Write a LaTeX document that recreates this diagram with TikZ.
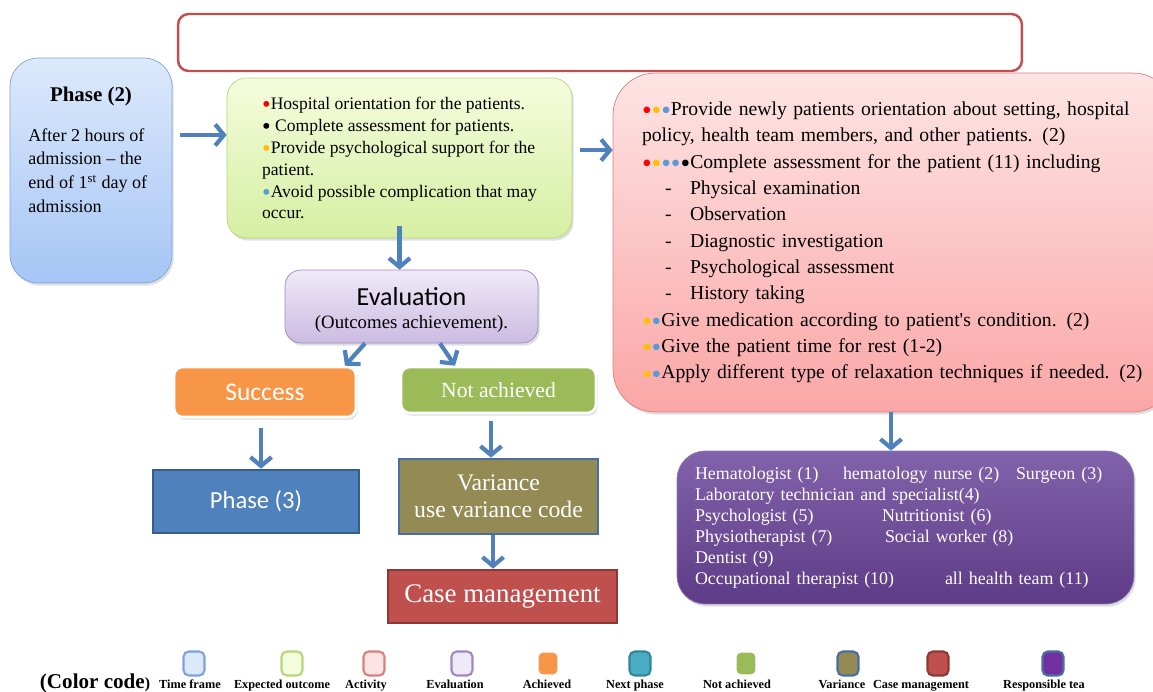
\documentclass[tikz,border=0pt]{standalone}
\usepackage{fontspec}
\setmainfont{Liberation Serif}
\newfontfamily\calibfont{Carlito}
\usetikzlibrary{arrows.meta,shadows,calc}

\definecolor{arrowblue}{HTML}{4F81BD}
\definecolor{bred}{HTML}{FF0000}
\definecolor{borange}{HTML}{FFC000}
\definecolor{bblue}{HTML}{5B9BD5}
\definecolor{tfborder}{HTML}{7DA3D8}
\definecolor{tftop}{HTML}{DCE9FB}
\definecolor{tfbot}{HTML}{A6C5F5}
\definecolor{eoborder}{HTML}{B3D77A}
\definecolor{eotop}{HTML}{F5FCDD}
\definecolor{eobot}{HTML}{D5EFA2}
\definecolor{acborder}{HTML}{D98080}
\definecolor{actop}{HTML}{FDE4E4}
\definecolor{acbot}{HTML}{FBA6A6}
\definecolor{evborder}{HTML}{9F87C4}
\definecolor{evtop}{HTML}{F0EAF8}
\definecolor{evbot}{HTML}{CBBBE2}
\definecolor{achfill}{HTML}{F79646}
\definecolor{npfill}{HTML}{4BACC6}
\definecolor{npborder}{HTML}{31859C}
\definecolor{nafill}{HTML}{9BBB59}
\definecolor{phfill}{HTML}{4F81BD}
\definecolor{phborder}{HTML}{385D8A}
\definecolor{vafill}{HTML}{948A54}
\definecolor{vaborder}{HTML}{4A6EA0}
\definecolor{cmfill}{HTML}{C0504D}
\definecolor{cmborder}{HTML}{8C3836}
\definecolor{rttop}{HTML}{8262AB}
\definecolor{rtbot}{HTML}{5E3B86}
\definecolor{rtfill}{HTML}{7030A0}
\definecolor{rtborder}{HTML}{8C78B4}

\newcommand{\bdot}[1]{\textcolor{#1}{\raisebox{-0.45ex}[0.8ex][0pt]{\scalebox{1.4}{\textbullet}}}}
\newcommand{\dashitem}{\hspace*{0.46cm}\makebox[0.5cm][l]{-}}

\begin{document}
\begin{tikzpicture}
	[x=0.02cm,y=-0.02cm,
	box/.style={draw,rounded corners=11pt,inner sep=0pt,
		drop shadow={shadow xshift=1pt,shadow yshift=-1.5pt,opacity=0.25}},
	flatbox/.style={draw,inner sep=0pt,line width=1.5pt,text=white},
	flow/.style={draw=arrowblue,line width=2.4pt,
		-{Straight Barb[length=5pt,width=12pt,line join=miter]}},
	legbox/.style={draw,line width=1.2pt,rounded corners=3pt,
		minimum width=0.42cm,minimum height=0.48cm,inner sep=0pt},
	legtext/.style={inner sep=0pt,font=\fontsize{7}{8}\bfseries}]
	\clip (0,0) rectangle (1153,691);

	\node[draw=cmfill,line width=1.4pt,rounded corners=6pt,
		minimum width=16.88cm,minimum height=1.14cm] (title) at (600,42.5) {};

	\node[box,draw=tfborder,top color=tftop,bottom color=tfbot,
		rounded corners=16pt,minimum width=3.24cm,minimum height=4.5cm] (phase) at (91,170.5) {};
	\node[inner sep=0pt,font=\fontsize{11.9}{13}\bfseries] (phasehead) at (91,96) {Phase (2)};
	\node[anchor=north west,inner sep=0pt,align=left,
		font=\fontsize{10.3}{13.6}\selectfont] (phasetxt) at (28,128)
		{After 2 hours of\\admission -- the\\end of 1\textsuperscript{st} day of\\admission};

	\node[box,draw=eoborder,top color=eotop,bottom color=eobot,
		minimum width=6.9cm,minimum height=3.2cm,align=left,
		font=\fontsize{10}{12.5}\selectfont] (outcome) at (399.5,158)
		{\bdot{bred}Hospital orientation for the patients.\\
		\bdot{black} Complete assessment for patients.\\
		\bdot{borange}Provide psychological support for the\\
		patient.\\
		\bdot{bblue}Avoid possible complication that may\\
		occur.};

	\node[box,draw=acborder,top color=actop,bottom color=acbot,
		rounded corners=24pt,minimum height=6.78cm,
		inner xsep=0.58cm,text width=10.08cm,align=left,
		font=\fontsize{11.2}{15}\selectfont] (activity) at (894,242.5)
		{\bdot{bred}\bdot{borange}\bdot{bblue}Provide newly patients orientation about setting, hospital\\
		policy, health team members, and other patients. (2)\\
		\bdot{bred}\bdot{borange}\bdot{bblue}\bdot{bblue}\bdot{black}Complete assessment for the patient (11) including\\
		\dashitem Physical examination\\
		\dashitem Observation\\
		\dashitem Diagnostic investigation\\
		\dashitem Psychological assessment\\
		\dashitem History taking\\
		\bdot{borange}\bdot{bblue}Give medication according to patient\textquotesingle s condition. (2)\\
		\bdot{borange}\bdot{bblue}Give the patient time for rest (1-2)\\
		\bdot{borange}\bdot{bblue}Apply different type of relaxation techniques if needed. (2)};

	\node[box,draw=evborder,top color=evtop,bottom color=evbot,
		rounded corners=9pt,minimum width=5.06cm,minimum height=1.46cm] (eval) at (411.5,306.5) {};
	\node[inner sep=0pt,align=center] (evaltxt) at (411.5,310)
		{{\calibfont\fontsize{14.8}{18}\selectfont Evaluation}\\[1pt]
		{\fontsize{10.7}{12}\selectfont (Outcomes achievement).}};

	\node[box,fill=achfill,draw=white,line width=1.5pt,rounded corners=5pt,text=white,
		minimum width=3.64cm,minimum height=1.0cm,
		font=\calibfont\fontsize{14.5}{16}\selectfont] (success) at (265,392) {Success};
	\node[box,fill=nafill,draw=white,line width=1.5pt,rounded corners=5pt,text=white,
		minimum width=3.9cm,minimum height=0.92cm,
		font=\fontsize{12.3}{14}\selectfont] (notach) at (498.5,390) {Not achieved};

	\node[flatbox,fill=phfill,draw=phborder,minimum width=4.12cm,minimum height=1.26cm,
		font=\calibfont\fontsize{14}{16}\selectfont] (phasenext) at (256,501.5) {Phase (3)};
	\node[flatbox,fill=vafill,draw=vaborder,minimum width=3.98cm,minimum height=1.5cm,align=center,
		font=\fontsize{13.5}{15.5}\selectfont] (variance) at (498.5,496.5) {Variance\\use variance code};
	\node[flatbox,fill=cmfill,draw=cmborder,minimum width=4.58cm,minimum height=1.06cm,
		font=\fontsize{15.3}{17}\selectfont] (casemgmt) at (502.5,596.5) {Case management};

	\node[box,draw=rtborder,top color=rttop,bottom color=rtbot,text=white,
		rounded corners=16pt,minimum height=3.06cm,
		inner xsep=0.36cm,text width=8.42cm,align=left,
		font=\fontsize{10.2}{11.9}\selectfont] (team) at (905.5,527.5)
		{\makebox[2.96cm][l]{Hematologist (1)}\makebox[3.46cm][l]{hematology nurse (2)}Surgeon (3)\\
		Laboratory technician and specialist(4)\\
		\makebox[3.74cm][l]{Psychologist (5)}Nutritionist (6)\\
		\makebox[3.8cm][l]{Physiotherapist (7)}Social worker (8)\\
		Dentist (9)\\
		\makebox[5cm][l]{Occupational therapist (10)}all health team (11)};

	\draw[flow] ([xshift=0.16cm,yshift=0.71cm]phase.east) -- ([yshift=0.71cm]phase.east -| outcome.west);
	\draw[flow] ([yshift=0.24cm]outcome.south) -- (outcome.south |- eval.north);
	\draw[flow] ([yshift=0.16cm,xshift=0.16cm]outcome.east) -- ([yshift=0.16cm]outcome.east -| activity.west);
	\draw[flow] ([xshift=-0.93cm]eval.south) -- ([xshift=1.6cm]success.north);
	\draw[flow] ([xshift=0.57cm]eval.south) -- ([xshift=-0.87cm]notach.north);
	\draw[flow,shorten <=0.2cm] ([xshift=-0.08cm]success.south) -- ([xshift=-0.08cm]success.south |- phasenext.north);
	\draw[flow,shorten <=0.14cm] ([xshift=-0.15cm]notach.south) -- ([xshift=-0.15cm]notach.south |- variance.north);
	\draw[flow] ([xshift=-0.11cm]variance.south) -- ([xshift=-0.11cm]variance.south |- casemgmt.north);
	\draw[flow] ([xshift=-0.06cm]activity.south) -- ([xshift=-0.06cm]activity.south |- team.north);

	\node[inner sep=0pt,anchor=base] (colorcode) at (95,688)
		{\fontsize{12}{14}\bfseries (Color code\fontsize{9}{10}\selectfont)};
	\foreach \sx/\lx/\fc/\dc/\lab [count=\i] in
		{194/190/tftop/tfborder/Time frame,
		292/282/eotop/eoborder/Expected outcome,
		374/366/actop/acborder/Activity,
		462/455/evtop/evborder/Evaluation,
		548/547/achfill/white/Achieved,
		640/635/npfill/npborder/Next phase,
		746/737/nafill/white/Not achieved,
		848/842/vafill/vaborder/Variance,
		938/921/cmfill/cmborder/Case management,
		1053/1044/rtfill/vaborder/Responsible tea}
	{
		\node[legbox,fill=\fc,draw=\dc] (leg\i) at (\sx,663.5) {};
		\node[legtext,anchor=base] (legtxt\i) at (\lx,688) {\lab};
	}
\end{tikzpicture}
\end{document}
